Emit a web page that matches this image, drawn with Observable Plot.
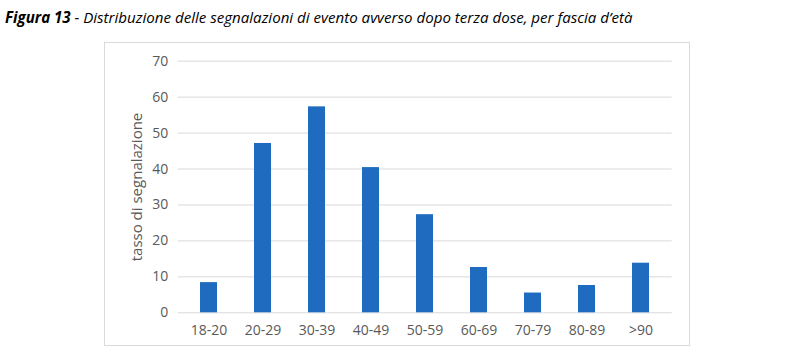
<!DOCTYPE html>
<html>
<head>
<meta charset="utf-8">
<script src="https://cdn.jsdelivr.net/npm/d3@7"></script>
<script src="https://cdn.jsdelivr.net/npm/@observablehq/plot@0.6"></script>
<style>
  html, body { margin: 0; padding: 0; background: #fff; }
  body { width: 800px; height: 361px; position: relative; overflow: hidden; font-family: "Open Sans", sans-serif; }
  #title { position: absolute; left: 5px; top: 7px; font-size: 15.1px; font-style: italic; color: #000; white-space: nowrap; }
  #title b { font-weight: 700; }
  #frame { position: absolute; left: 104px; top: 42px; width: 584px; height: 302px; border: 1px solid #d9d9d9; box-sizing: content-box; }
  #chart { position: absolute; left: 0; top: 36px; }
</style>
</head>
<body>
<div id="title"><b>Figura 13</b> - Distribuzione delle segnalazioni di evento avverso dopo terza dose, per fascia d’età</div>
<div id="frame"></div>
<div id="chart"></div>
<script>
const ageGroups = ["18-20", "20-29", "30-39", "40-49", "50-59", "60-69", "70-79", "80-89", ">90"];
const rates = [8.4, 47.1, 57.3, 40.4, 27.3, 12.6, 5.5, 7.6, 13.8];
const yTicks = [0, 10, 20, 30, 40, 50, 60, 70];

const data = ageGroups.map((g, i) => ({group: g, value: rates[i]}));

const chart = Plot.plot({
  width: 800,
  height: 325,
  marginTop: 24.7,
  marginBottom: 48.7,
  marginLeft: 177.7,
  marginRight: 128.3,
  style: {fontFamily: "Open Sans, sans-serif", fontSize: "14px", color: "#595959", background: "transparent"},
  x: {domain: ageGroups, paddingInner: 0.69, paddingOuter: 0.345, label: null},
  y: {domain: [0, 70], label: null},
  marks: [
    Plot.gridY(yTicks, {stroke: "#d9d9d9", strokeOpacity: 1, strokeWidth: 1}),
    Plot.barY(data, {x: "group", y: "value", fill: "#1f6bbf"}),
    Plot.axisX({tickSize: 0, tickPadding: 12, fontSize: 14, fill: "#595959"}),
    Plot.axisY(yTicks, {tickSize: 0, tickPadding: 10, fontSize: 14, fill: "#595959"}),
    Plot.axisY({tickSize: 0, ticks: [], label: "tasso di segnalazione", labelAnchor: "center", labelArrow: "none", labelOffset: 47, fontSize: 15, fill: "#595959"})
  ]
});
document.getElementById("chart").appendChild(chart);
</script>
</body>
</html>
